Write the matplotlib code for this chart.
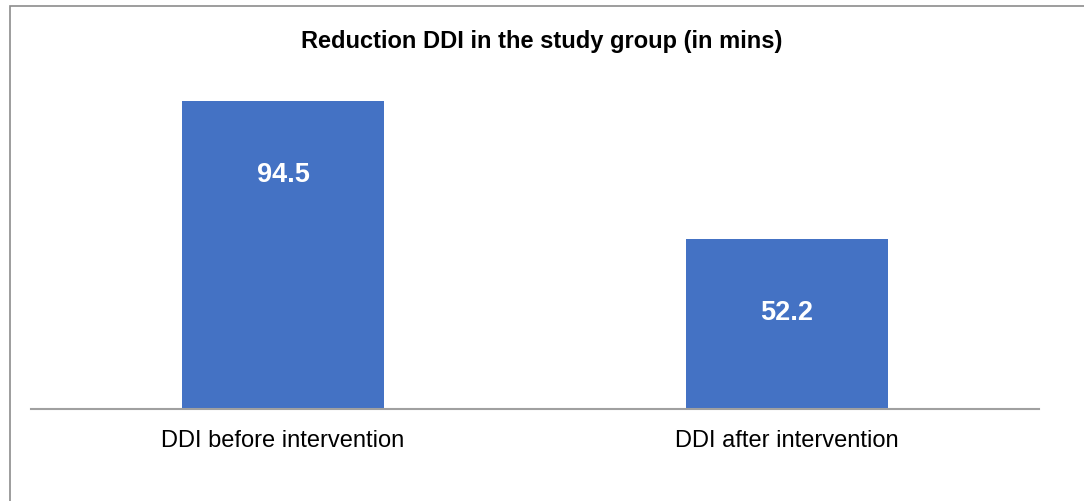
import matplotlib
matplotlib.use("Agg")
import matplotlib.pyplot as plt
from matplotlib.patches import Rectangle

categories = ["DDI before intervention", "DDI after intervention"]
values = [94.5, 52.2]
title = "Reduction DDI in the study group (in mins)"

plt.rcParams['font.family'] = ['Liberation Sans', 'DejaVu Sans']

fig = plt.figure(figsize=(10.84, 5.02), dpi=100)
# outer chart border (extends beyond right/bottom edges)
fig.patches.append(Rectangle((10/1084, -0.05), 1.2, (502-7)/502 + 0.05, transform=fig.transFigure,
                             fill=False, edgecolor='#8c8c8c', linewidth=1.2))

ax = fig.add_axes([31/1084, (502-410)/502, 1008/1084, 326/502])
x = list(range(len(categories)))
bars = ax.bar(x, values, width=0.4, color='#4472C4')
ax.set_xlim(-0.5, len(categories) - 0.5)
ax.set_ylim(0, 100)
for s in ['top', 'right', 'left']:
    ax.spines[s].set_visible(False)
ax.spines['bottom'].set_color('#a0a0a0')
ax.spines['bottom'].set_linewidth(1.5)
ax.set_yticks([])
ax.set_xticks(x)
ax.set_xticklabels(categories, fontsize=17, color='#000000')
ax.tick_params(axis='x', length=0, pad=37 * 0.72)
for lbl in ax.get_xticklabels():
    lbl.set_va('baseline')

for xi, v in zip(x, values):
    ax.annotate(f"{v}", xy=(xi, v), xytext=(0, -80), textcoords='offset pixels',
                ha='center', va='baseline', color='white', fontsize=19.5, fontweight='bold')

fig.text(0.5, (502-48)/502, title, ha='center', va='baseline', fontsize=17.0, fontweight='bold')

fig.savefig("out.png", dpi=100)
